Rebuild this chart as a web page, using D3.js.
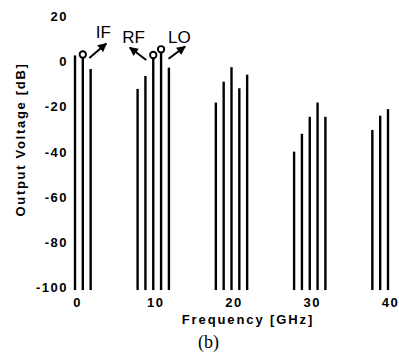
<!DOCTYPE html>
<html><head><meta charset="utf-8">
<script src="https://cdn.jsdelivr.net/npm/d3@7"></script>
<style>
html,body{margin:0;padding:0;background:#fff;}
svg{display:block;}
</style></head>
<body>
<svg id="chart" width="399" height="360"></svg>
<script>
// Spectral lines: frequency (GHz) and output voltage (dB)
const frequencies = [0, 1, 2, 8, 9, 10, 11, 12, 18, 19, 20, 21, 22, 28, 29, 30, 31, 32, 38, 39, 40];
const voltages    = [2.6, 3.0, -3.4, -12.2, -6.5, 2.8, 5.3, -2.8, -18.2, -9.0, -2.6, -11.9, -5.9, -39.9, -32.0, -24.5, -18.2, -24.5, -30.3, -24.0, -21.1];
const xTicks = [0, 10, 20, 30, 40];
const yTicks = [20, 0, -20, -40, -60, -80, -100];
const markerLabels = ["IF", "RF", "LO"];
const markerFreqs  = [1, 10, 11];

const svg = d3.select("#chart");
const x = d3.scaleLinear().domain([0, 40]).range([75, 388]);
const y = d3.scaleLinear().domain([-100, 0]).range([287.8, 61.3]);
const base = -101;

const boldFont = "'Liberation Sans', Arial, sans-serif";

// bars
svg.append("g").selectAll("line").data(frequencies).join("line")
  .attr("x1", d => x(d)).attr("x2", d => x(d))
  .attr("y1", y(base))
  .attr("y2", (d, i) => y(voltages[i]))
  .attr("stroke", "#000").attr("stroke-width", 2.4);

// y tick labels
svg.append("g").selectAll("text").data(yTicks).join("text")
  .attr("x", 68).attr("y", d => y(d))
  .attr("dy", "0.36em")
  .attr("text-anchor", "end")
  .attr("font-family", boldFont).attr("font-weight", "bold")
  .attr("font-size", 13).attr("letter-spacing", 1.5)
  .text(d => d);

// x tick labels
svg.append("g").selectAll("text").data(xTicks).join("text")
  .attr("x", d => x(d) + 2.5).attr("y", 302)
  .attr("dy", "0.36em")
  .attr("text-anchor", "middle")
  .attr("font-family", boldFont).attr("font-weight", "bold")
  .attr("font-size", 13).attr("letter-spacing", 1.5)
  .text(d => d);

// axis titles
svg.append("text")
  .attr("x", 248).attr("y", 319).attr("dy", "0.36em")
  .attr("text-anchor", "middle")
  .attr("font-family", boldFont).attr("font-weight", "bold")
  .attr("font-size", 13).attr("letter-spacing", 1.9)
  .text("Frequency [GHz]");

svg.append("text")
  .attr("transform", "translate(20,139.5) rotate(-90)")
  .attr("dy", "0.36em")
  .attr("text-anchor", "middle")
  .attr("font-family", boldFont).attr("font-weight", "bold")
  .attr("font-size", 13).attr("letter-spacing", 1.7)
  .text("Output Voltage [dB]");

svg.append("text")
  .attr("x", 208.5).attr("y", 348)
  .attr("text-anchor", "middle")
  .attr("font-family", "'Liberation Serif', 'Times New Roman', serif")
  .attr("font-size", 18)
  .text("(b)");

// markers (circles at IF, RF, LO)
const defs = svg.append("defs");
defs.append("marker").attr("id", "ah")
  .attr("viewBox", "0 0 10 10").attr("refX", 9).attr("refY", 5)
  .attr("markerWidth", 9).attr("markerHeight", 9)
  .attr("markerUnits", "userSpaceOnUse")
  .attr("orient", "auto")
  .append("path").attr("d", "M0,0 L10,5 L0,10 Z").attr("fill", "#000");

const markerPts = markerFreqs.map(f => {
  const i = frequencies.indexOf(f);
  return {cx: x(f), cy: y(voltages[i])};
});

svg.append("g").selectAll("circle").data(markerPts).join("circle")
  .attr("cx", d => d.cx).attr("cy", d => d.cy).attr("r", 3.2)
  .attr("fill", "#fff").attr("stroke", "#000").attr("stroke-width", 1.9);

// arrow offsets relative to each marker: [startDx, startDy, endDx, endDy]
const arrowOffsets = [[6.5, 3.5, 23.5, -11], [-7, 5, -23.5, -7.5], [7.5, 9.5, 24, -2.8]];
// label offsets relative to each marker: [dx, dy]
const labelOffsets = [[13, -16.5], [-31, -12], [7, -6.5]];

svg.append("g").selectAll("line").data(markerPts).join("line")
  .attr("x1", (d, i) => d.cx + arrowOffsets[i][0])
  .attr("y1", (d, i) => d.cy + arrowOffsets[i][1])
  .attr("x2", (d, i) => d.cx + arrowOffsets[i][2])
  .attr("y2", (d, i) => d.cy + arrowOffsets[i][3])
  .attr("stroke", "#000").attr("stroke-width", 2)
  .attr("marker-end", "url(#ah)");

svg.append("g").selectAll("text").data(markerPts).join("text")
  .attr("x", (d, i) => d.cx + labelOffsets[i][0])
  .attr("y", (d, i) => d.cy + labelOffsets[i][1])
  .attr("font-family", "'Liberation Sans', Arial, sans-serif")
  .attr("font-size", 17)
  .text((d, i) => markerLabels[i]);
</script>
</body></html>
